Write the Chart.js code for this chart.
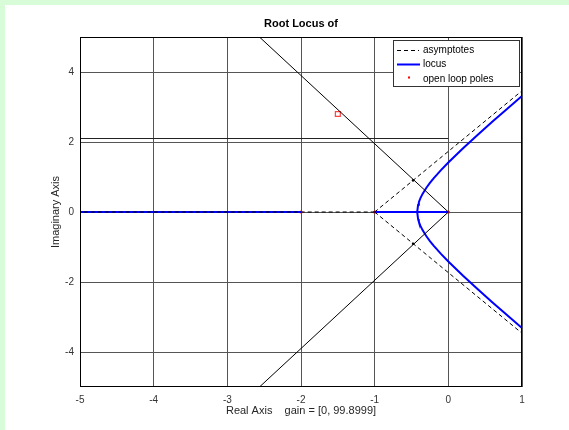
<!DOCTYPE html>
<html>
<head>
<meta charset="utf-8">
<script src="https://cdn.jsdelivr.net/npm/chart.js@4"></script>
<style>
html,body{margin:0;padding:0;background:#fff;}
#wrap{width:569px;height:430px;position:relative;}
</style>
</head>
<body>
<div id="wrap"><canvas id="c" width="569" height="430"></canvas></div>
<script>
// ---- data ----
const xTicks = [-5, -4, -3, -2, -1, 0, 1];
const yTicks = [-4, -2, 0, 2, 4];
const poleRe = [-2, -1, 0];
const poleIm = [0, 0, 0];
// asymptote segments (start at centroid -1)
const asymX = [[-1, -5], [-1, 1], [-1, 1]];
const asymY = [[0, 0], [0, 3.464], [0, -3.464]];
// real-axis locus pieces
const realLocusX = [[-5, -2], [-1, 0]];
// complex branch (upper half; lower is mirror)
const branchRe = [-0.4226, -0.41, -0.4, -0.38, -0.35, -0.3, -0.25, -0.2, -0.1, 0, 0.2, 0.4, 0.6, 0.8, 1.0];
const branchIm = [0, 0.21, 0.283, 0.391, 0.517, 0.686, 0.829, 0.959, 1.196, 1.414, 1.822, 2.209, 2.585, 2.953, 3.317];
// damping-ratio lines from origin
const dampX = [0, -2.564];
const dampY = [0, 5];
// horizontal design line
const hLineX = [-5, 0];
const hLineY = [2.1, 2.1];
// design point (red square)
const designPt = [-1.5, 2.8];
// intersections of damping line and asymptotes
const crossRe = [-0.478, -0.478];
const crossIm = [0.905, -0.905];

const pts = (xs, ys) => xs.map((x, i) => ({x: x, y: ys[i]}));
const lineDs = (data, color, width, dash) => ({
  data: data, showLine: true, borderColor: color, borderWidth: width,
  borderDash: dash || [], pointRadius: 0, fill: false, tension: 0
});

const datasets = [];
// damping lines & horizontal line
datasets.push(lineDs(pts(dampX, dampY), '#000', 1));
datasets.push(lineDs(pts(dampX, dampY.map(v => -v)), '#000', 1));
datasets.push(lineDs(pts(hLineX, hLineY), '#222', 1));
// asymptotes
asymX.forEach((xs, i) => datasets.push(lineDs(pts(xs, asymY[i]), '#000', 1, [4, 3])));
// locus
realLocusX.forEach(xs => datasets.push(lineDs(pts(xs, [0, 0]), '#0000ff', 2)));
datasets.push(lineDs(pts(branchRe, branchIm), '#0000ff', 2));
datasets.push(lineDs(pts(branchRe, branchIm.map(v => -v)), '#0000ff', 2));
// poles
datasets.push({data: pts(poleRe, poleIm), showLine: false, pointRadius: 1.6, pointBackgroundColor: '#ff0000', pointBorderWidth: 0});
// intersections
datasets.push({data: pts(crossRe, crossIm), showLine: false, pointRadius: 1.3, pointBackgroundColor: '#000', pointBorderWidth: 0});
// design point
datasets.push({data: [{x: designPt[0], y: designPt[1]}], showLine: false, pointStyle: 'rect', pointRadius: 3.5, pointBorderColor: '#ff4444', pointBorderWidth: 1.2, pointBackgroundColor: 'rgba(0,0,0,0)'});

const FONT = "'Liberation Sans', Arial, sans-serif";

const decor = {
  id: 'decor',
  beforeDraw(chart) {
    const c = chart.ctx;
    c.save();
    c.fillStyle = '#fff';
    c.fillRect(0, 0, chart.width, chart.height);
    c.fillStyle = '#d8fcd8';
    c.fillRect(0, 0, chart.width, 5);
    c.fillRect(0, 0, 5, chart.height);
    c.restore();
  },
  afterDraw(chart) {
    const c = chart.ctx, a = chart.chartArea;
    c.save();
    // border
    c.strokeStyle = '#000';
    c.lineWidth = 1;
    c.strokeRect(Math.round(a.left) + 0.5, Math.round(a.top) + 0.5, Math.round(a.right - a.left) - 1, Math.round(a.bottom - a.top) - 1);
    // title
    c.fillStyle = '#000';
    c.font = "bold 11px " + FONT;
    c.textAlign = 'center';
    c.textBaseline = 'middle';
    c.fillText('Root Locus of', (a.left + a.right) / 2, 24);
    // axis titles
    c.fillStyle = '#262626';
    c.font = "11px " + FONT;
    c.fillText('Real Axis    gain = [0, 99.8999]', (a.left + a.right) / 2, 411);
    c.save();
    c.translate(56, (a.top + a.bottom) / 2);
    c.rotate(-Math.PI / 2);
    c.fillText('Imaginary Axis', 0, 0);
    c.restore();
    // legend
    const lx = 393.5, ly = 40.5, lw = 126, lh = 46;
    c.fillStyle = '#fff';
    c.fillRect(lx, ly, lw, lh);
    c.strokeStyle = '#333';
    c.lineWidth = 1;
    c.strokeRect(lx, ly, lw, lh);
    c.font = "10px " + FONT;
    c.textAlign = 'left';
    c.fillStyle = '#000';
    const rows = [50, 64.5, 79];
    c.beginPath(); c.setLineDash([4, 3]); c.strokeStyle = '#000';
    c.moveTo(397, rows[0] + 0.5); c.lineTo(419, rows[0] + 0.5); c.stroke();
    c.setLineDash([]);
    c.beginPath(); c.strokeStyle = '#0000ff'; c.lineWidth = 2;
    c.moveTo(397, rows[1]); c.lineTo(420, rows[1]); c.stroke();
    c.fillStyle = '#ff0000';
    c.fillRect(408, rows[2] - 2.5, 2, 2);
    c.fillStyle = '#000';
    c.fillText('asymptotes', 423, rows[0]);
    c.fillText('locus', 423, rows[1]);
    c.fillText('open loop poles', 423, rows[2]);
    c.restore();
  }
};

new Chart(document.getElementById('c'), {
  type: 'scatter',
  data: {datasets: datasets},
  plugins: [decor],
  options: {
    responsive: false,
    animation: false,
    devicePixelRatio: 1,
    layout: {padding: {left: 0, right: 47, top: 37, bottom: 0}},
    plugins: {legend: {display: false}, title: {display: false}, tooltip: {enabled: false}},
    scales: {
      x: {
        type: 'linear', min: -5, max: 1,
        afterBuildTicks: s => { s.ticks = xTicks.map(v => ({value: v})); },
        afterFit: s => { s.height = 43; },
        grid: {color: '#555', lineWidth: 1, drawTicks: false},
        border: {display: false},
        ticks: {padding: 7, color: '#333', font: {family: FONT, size: 10}, maxRotation: 0}
      },
      y: {
        type: 'linear', min: -5, max: 5,
        afterBuildTicks: s => { s.ticks = yTicks.map(v => ({value: v})); },
        afterFit: s => { s.width = 80; },
        grid: {color: '#555', lineWidth: 1, drawTicks: false},
        border: {display: false},
        ticks: {padding: 6, color: '#333', font: {family: FONT, size: 10}}
      }
    }
  }
});
</script>
</body>
</html>
